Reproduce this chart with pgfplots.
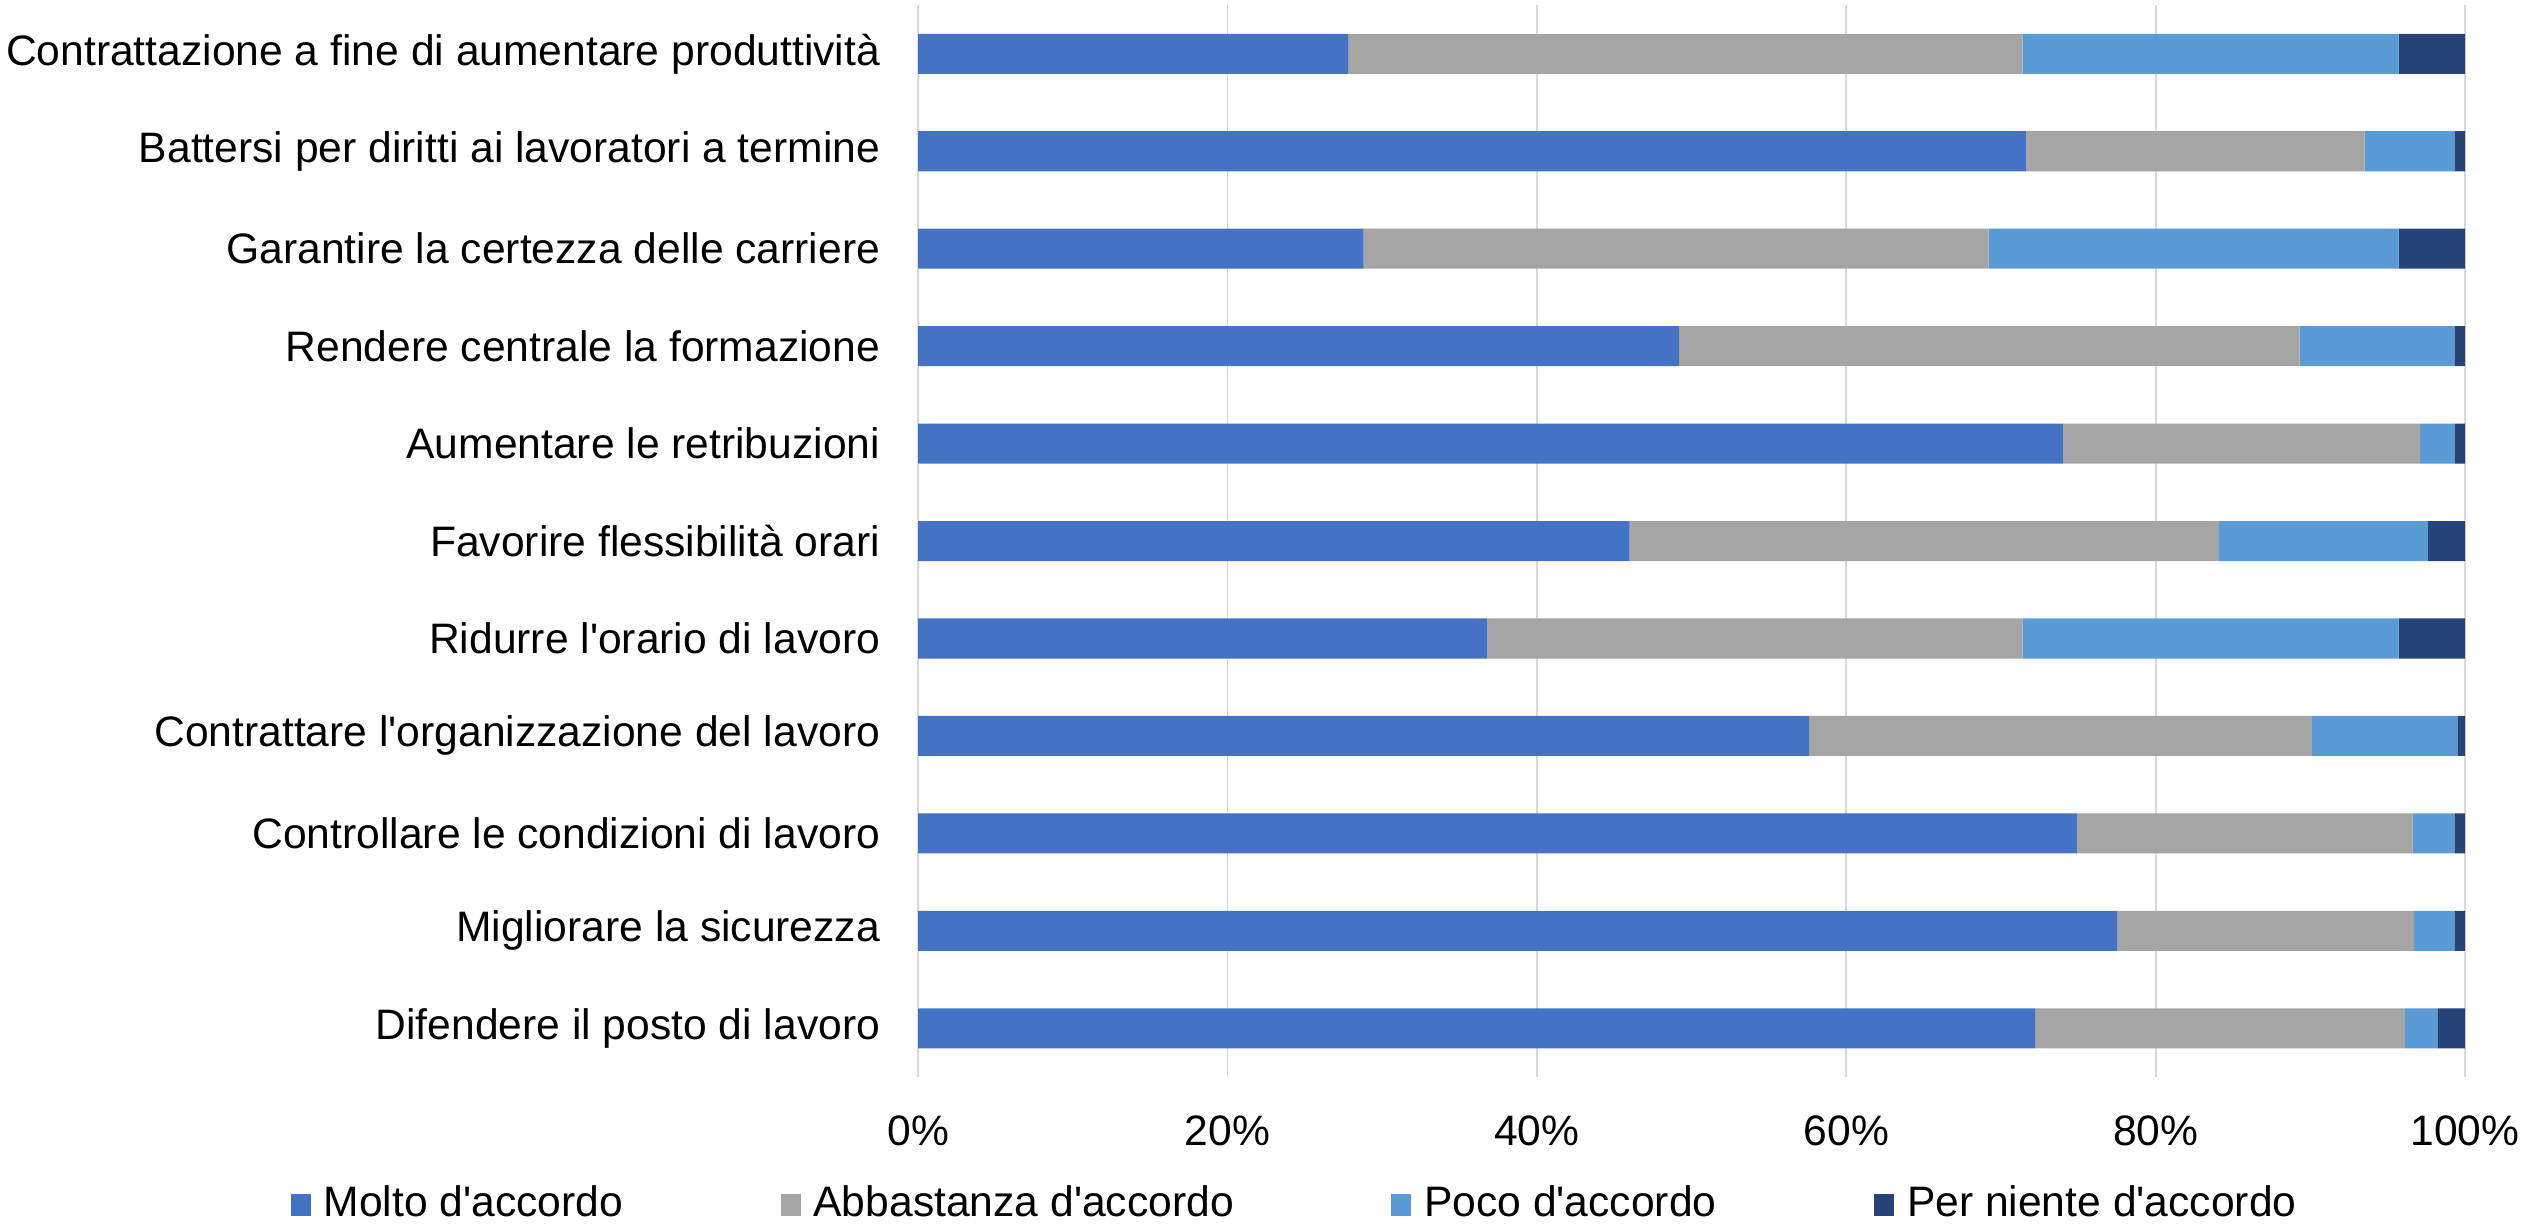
\documentclass[border=0pt]{standalone}
\usepackage{fontspec}
\setmainfont{Liberation Sans}
\usepackage{pgfplots}
\pgfplotsset{compat=1.18}
\definecolor{cA}{HTML}{4472C4}
\definecolor{cB}{HTML}{A5A5A5}
\definecolor{cC}{HTML}{5B9BD5}
\definecolor{cD}{HTML}{264478}
\definecolor{gridc}{HTML}{D9D9D9}
\newcommand{\ap}{\textquotesingle}
\begin{document}
\begin{tikzpicture}
\begin{axis}[
  scale only axis,
  width=363.1pt, height=251.6pt,
  xbar stacked,
  bar width=9.4pt,
  xmin=0, xmax=100,
  ymin=-0.5, ymax=10.5,
  xtick={0,20,40,60,80,100},
  xticklabels={0\%,20\%,40\%,60\%,80\%,100\%},
  ytick={0,1,2,3,4,5,6,7,8,9,10},
  yticklabels={Difendere il posto di lavoro,Migliorare la sicurezza,Controllare le condizioni di lavoro,Contrattare l\ap organizzazione del lavoro,Ridurre l\ap orario di lavoro,Favorire flessibilità orari,Aumentare le retribuzioni,Rendere centrale la formazione,Garantire la certezza delle carriere,Battersi per diritti ai lavoratori a termine,Contrattazione a fine di aumentare produttività},
  major tick length=0pt,
  xmajorgrids,
  major grid style={draw=gridc, line width=0.45pt},
  axis line style={draw=none},
  tick label style={font=\fontsize{10}{12}\selectfont},
  xticklabel style={yshift=-5.5pt},
  yticklabel style={xshift=-5.4pt},
  legend style={draw=none, fill=none, at={(-0.406,-0.119)}, anchor=west,
    legend columns=4, inner sep=0pt,
    font=\fontsize{10}{12}\selectfont,
    nodes={inner sep=1.5pt},
    /tikz/every even column/.append style={column sep=35.5pt}},
  legend image code/.code={\fill[#1] (0pt,-2.6pt) rectangle (4.7pt,2.6pt); \path (6.2pt,0pt);},
]
\addplot[fill=cA, draw=none] coordinates {(72.2,0) (77.5,1) (74.9,2) (57.6,3) (36.8,4) (46.0,5) (74.0,6) (49.2,7) (28.8,8) (71.6,9) (27.8,10)};
\addplot[fill=cB, draw=none] coordinates {(23.9,0) (19.2,1) (21.7,2) (32.5,3) (34.6,4) (38.1,5) (23.1,6) (40.1,7) (40.4,8) (21.9,9) (43.6,10)};
\addplot[fill=cC, draw=none] coordinates {(2.1,0) (2.6,1) (2.7,2) (9.4,3) (24.3,4) (13.5,5) (2.2,6) (10.0,7) (26.5,8) (5.8,9) (24.3,10)};
\addplot[fill=cD, draw=none] coordinates {(1.8,0) (0.7,1) (0.7,2) (0.5,3) (4.3,4) (2.4,5) (0.7,6) (0.7,7) (4.3,8) (0.7,9) (4.3,10)};
\legend{Molto d\ap accordo,Abbastanza d\ap accordo,Poco d\ap accordo,Per niente d\ap accordo}
\coordinate (SW) at (rel axis cs:0,0);
\coordinate (NE) at (rel axis cs:1,1);
\end{axis}
\pgfresetboundingbox
\path[use as bounding box] ([shift={(-215.5pt,-34.7pt)}]SW) rectangle ([shift={(14.3pt,1.2pt)}]NE);
\end{tikzpicture}
\end{document}
